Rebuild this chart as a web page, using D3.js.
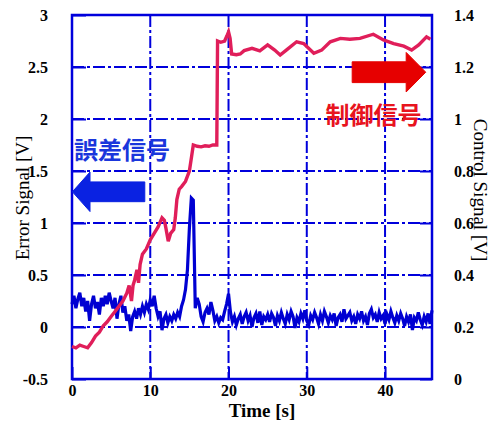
<!DOCTYPE html>
<html lang="ja">
<head>
  <meta charset="UTF-8">
  <title>Error / Control Signal</title>
  <script src="https://d3js.org/d3.v7.min.js"></script>
  <style>
    body { background: #fff; margin: 0; }
    svg { display: block; }
    .tick-label { font-family: "Liberation Serif", "Times New Roman", serif; font-weight: bold; font-size: 16px; fill: #000; }
    .axis-title { font-family: "Liberation Serif", "Times New Roman", serif; font-size: 19px; fill: #000; }
    .grid { stroke: #0000dc; stroke-width: 2; stroke-dasharray: 12,3,3,3; }
    .frame { stroke: #0000dc; stroke-width: 2.5; fill: none; }
    .jp { font-family: "Noto Sans CJK JP", sans-serif; font-weight: bold; font-size: 24px; }
  </style>
</head>
<body>
<svg width="491" height="421"></svg>
<script>
// ---- data ----
const xTicks = [0, 10, 20, 30, 40];
const leftTicks = [-0.5, 0, 0.5, 1, 1.5, 2, 2.5, 3];
const rightTicks = [0, 0.2, 0.4, 0.6, 0.8, 1, 1.2, 1.4];

// error signal (left axis), sampled every 0.25 s from t = 0
const errorStep = 0.25;
const errorSignal = [
  0.22, 0.30, 0.18, 0.27, 0.33,
  0.20, 0.28, 0.15, 0.25,
  0.06, 0.22, 0.30, 0.18,
  0.24, 0.12, 0.28, 0.20,
  0.30, 0.22, 0.33, 0.25,
  0.18, 0.28, 0.08, 0.22,
  0.30, 0.14, 0.20, 0.06,
  0.12, -0.04, 0.10, 0.15,
  0.08, 0.18, 0.12, 0.20,
  0.14, 0.22, 0.17, 0.26,
  0.20, 0.30, 0.18, 0.10,
  0.15, -0.03, 0.08, 0.12,
  0.04, 0.10, 0.06, 0.12,
  0.08, 0.14, 0.10, 0.20,
  0.26, 0.36, 0.55, 0.95,
  1.24, 1.22, 0.18, 0.28,
  0.22, 0.10, 0.05, 0.14,
  0.18, 0.12, 0.24, 0.16,
  0.06, 0.10, 0.04, 0.09,
  0.07, 0.15, 0.22, 0.32,
  0.14, 0.05, 0.10, 0.02,
  0.08, 0.12, 0.03, 0.10,
  0.14, 0.06, 0.11, 0.00,
  0.09, 0.13, 0.04, 0.15,
  0.02, 0.10, 0.07, 0.12,
  0.05, 0.13, 0.09, 0.01,
  0.11, 0.06, 0.14, 0.08,
  0.03, 0.12, 0.07, 0.15,
  0.10, -0.01, 0.09, 0.05,
  0.13, 0.08, 0.16, 0.06,
  0.02, 0.11, 0.07, 0.14,
  0.09, 0.03, 0.12, 0.06,
  0.15, 0.10, 0.04, 0.11,
  0.07, 0.13, 0.01, 0.09,
  0.12, 0.05, 0.17, 0.08,
  0.11, 0.14, 0.06, 0.10,
  0.03, 0.12, 0.08, 0.15,
  0.06, 0.10, 0.02, 0.13,
  0.17, 0.09, 0.12, 0.05,
  0.14, 0.08, 0.11, 0.03,
  0.12, 0.07, 0.15, 0.09,
  0.04, 0.11, 0.06, 0.13,
  0.08, 0.01, 0.10, 0.05,
  0.12, -0.03, 0.09, 0.06,
  0.14, 0.07, 0.02, 0.10,
  0.05, 0.13, 0.03, 0.16
];

// control signal (right axis)
const controlTime = [
  0, 0.5, 1, 1.5, 2, 2.5, 3, 3.5, 4, 4.5, 5, 5.5, 6, 6.5, 7, 7.3, 7.6, 7.8, 8, 8.3, 8.5, 8.7,
  9, 9.5, 10, 10.5, 11, 11.5, 11.8, 12, 12.3, 12.6, 13, 13.2, 13.4, 13.7, 14, 14.5, 15, 15.3,
  15.5, 16, 16.5, 17, 17.5, 18, 18.5, 18.55, 18.6, 19, 19.5, 19.8, 20, 20.2, 20.4, 21, 21.5,
  22, 23, 24, 25, 25.9, 26.6, 27.5, 28.7, 29.6, 30.9, 31.9, 33, 34.3, 35.5, 36.8, 38.5, 39.8,
  41.1, 42.4, 43.4, 44.3, 45.3, 45.8
];
const controlSignal = [
  0.125, 0.12, 0.13, 0.125, 0.12, 0.14, 0.165, 0.18, 0.205, 0.22, 0.24, 0.26, 0.28, 0.30, 0.33, 0.36, 0.30, 0.36, 0.38, 0.42, 0.37, 0.44,
  0.48, 0.50, 0.535, 0.56, 0.585, 0.62, 0.61, 0.58, 0.53, 0.56, 0.575, 0.62, 0.69, 0.73, 0.74, 0.76, 0.80, 0.86,
  0.90, 0.895, 0.893, 0.897, 0.895, 0.90, 0.90, 1.10, 1.30, 1.295, 1.30, 1.32, 1.335, 1.31, 1.25, 1.247, 1.25,
  1.263, 1.272, 1.262, 1.285, 1.265, 1.246, 1.268, 1.297, 1.29, 1.253, 1.265, 1.297, 1.31, 1.307, 1.31, 1.326, 1.304,
  1.29, 1.28, 1.265, 1.285, 1.316, 1.307
];

// ---- scales ----
const svg = d3.select("svg");
const x = d3.scaleLinear().domain([0, 46]).range([72, 432]);
const yL = d3.scaleLinear().domain([-0.5, 3]).range([379, 15]);
const yR = d3.scaleLinear().domain([0, 1.4]).range([379, 15]);
const blue = "#0000dc";

// gridlines (dash-dot)
svg.append("g").selectAll("line").data(xTicks.slice(1)).join("line")
  .attr("class", "grid")
  .attr("x1", d => x(d)).attr("x2", d => x(d))
  .attr("y1", yL(3)).attr("y2", yL(-0.5));
svg.append("g").selectAll("line").data(leftTicks.slice(1, -1)).join("line")
  .attr("class", "grid")
  .attr("x1", x(0)).attr("x2", x(46))
  .attr("y1", d => yL(d)).attr("y2", d => yL(d));

// axes
const fmt = d => String(d);
const gx = svg.append("g").attr("transform", `translate(0,${yL(-0.5)})`)
  .call(d3.axisBottom(x).tickValues(xTicks).tickFormat(fmt).tickSizeInner(-12).tickSizeOuter(0).tickPadding(14));
const gl = svg.append("g").attr("transform", `translate(${x(0)},0)`)
  .call(d3.axisLeft(yL).tickValues(leftTicks).tickFormat(fmt).tickSizeInner(-14).tickSizeOuter(0).tickPadding(24));
const gr = svg.append("g").attr("transform", `translate(${x(46)},0)`)
  .call(d3.axisRight(yR).tickValues(rightTicks).tickFormat(fmt).tickSizeInner(-12).tickSizeOuter(0).tickPadding(22));
[gx, gl, gr].forEach(g => {
  g.select(".domain").remove();
  g.selectAll(".tick line").attr("stroke", blue).attr("stroke-width", 2);
  g.selectAll(".tick text").attr("class", "tick-label").attr("fill", "#000");
});
gx.selectAll(".tick text").attr("dy", "0.2em");

// frame
svg.append("rect").attr("class", "frame")
  .attr("x", x(0)).attr("y", yL(3))
  .attr("width", x(46) - x(0)).attr("height", yL(-0.5) - yL(3));

// series
svg.append("path")
  .datum(errorSignal)
  .attr("fill", "none").attr("stroke", "#0000d2").attr("stroke-width", 3.2)
  .attr("stroke-linejoin", "miter")
  .attr("d", d3.line().x((d, i) => x(i * errorStep)).y(d => yL(d)));

svg.append("path")
  .datum(controlTime)
  .attr("fill", "none").attr("stroke", "#e01e5a").attr("stroke-width", 3.4)
  .attr("d", d3.line().x(d => x(d)).y((d, i) => yR(controlSignal[i])));

// arrows (in data units of left axis)
function arrow(tip, back, end, yMid, headHalf, bodyHalf, color) {
  const pts = [
    [tip, yMid], [back, yMid + headHalf], [back, yMid + bodyHalf], [end, yMid + bodyHalf],
    [end, yMid - bodyHalf], [back, yMid - bodyHalf], [back, yMid - headHalf]
  ];
  svg.append("polygon")
    .attr("points", pts.map(p => [x(p[0]), yL(p[1])].join(",")).join(" "))
    .attr("fill", color).attr("stroke", color).attr("stroke-width", 1);
}
arrow(0.05, 2.3, 9.3, 1.30, 0.19, 0.095, "#0a22e2");
arrow(45.2, 42.7, 35.8, 2.45, 0.19, 0.10, "#e60000");

svg.append("text").attr("class", "jp")
  .attr("x", x(0.25)).attr("y", yL(1.615))
  .attr("fill", "#1a36dc").text("誤差信号");
svg.append("text").attr("class", "jp")
  .attr("x", x(32.4)).attr("y", yL(1.95))
  .attr("fill", "#e8141e").text("制御信号");

// axis titles
svg.append("text").attr("class", "axis-title")
  .attr("transform", "translate(29,198) rotate(-90)")
  .attr("text-anchor", "middle").text("Error Signal [V]");
svg.append("text").attr("class", "axis-title")
  .attr("transform", "translate(474,190) rotate(90)")
  .attr("text-anchor", "middle").text("Control Signal [V]");
svg.append("text").attr("class", "axis-title")
  .attr("x", 262).attr("y", 417).attr("text-anchor", "middle")
  .attr("font-weight", "bold").attr("font-size", 18).text("Time [s]");
</script>
</body>
</html>
